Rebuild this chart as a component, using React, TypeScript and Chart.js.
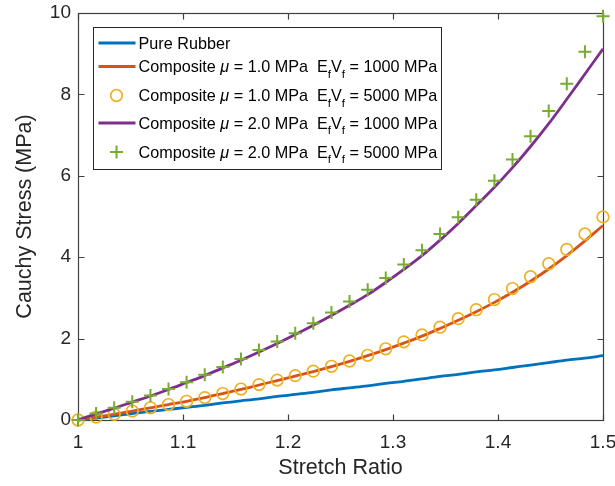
import { useEffect, useRef } from 'react';
import { Chart, registerables } from 'chart.js';

Chart.register(...registerables);

const FONT = '"Liberation Sans", Arial, Helvetica, sans-serif';

// Stretch ratio (x) sample points
const stretch = [
  1.0, 1.0172, 1.0345, 1.0517, 1.069, 1.0862, 1.1034, 1.1207, 1.1379, 1.1552,
  1.1724, 1.1897, 1.2069, 1.2241, 1.2414, 1.2586, 1.2759, 1.2931, 1.3103, 1.3276,
  1.3448, 1.3621, 1.3793, 1.3966, 1.4138, 1.431, 1.4483, 1.4655, 1.4828, 1.5,
];

// Cauchy stress (MPa)
const pureRubber = [
  0, 0.05, 0.1, 0.16, 0.21, 0.26, 0.31, 0.36, 0.42, 0.47,
  0.52, 0.58, 0.63, 0.68, 0.74, 0.79, 0.84, 0.9, 0.95, 1.01,
  1.07, 1.12, 1.18, 1.23, 1.29, 1.35, 1.41, 1.47, 1.52, 1.58,
];
const comp1_1000 = [
  0, 0.07, 0.14, 0.22, 0.3, 0.38, 0.46, 0.55, 0.65, 0.75,
  0.86, 0.97, 1.08, 1.19, 1.31, 1.44, 1.58, 1.73, 1.89, 2.06,
  2.25, 2.45, 2.66, 2.89, 3.14, 3.41, 3.71, 4.04, 4.4, 4.78,
];
const comp1_5000 = [
  0, 0.07, 0.14, 0.22, 0.3, 0.38, 0.46, 0.55, 0.65, 0.76,
  0.87, 0.98, 1.09, 1.2, 1.32, 1.45, 1.59, 1.75, 1.92, 2.09,
  2.28, 2.49, 2.71, 2.96, 3.23, 3.52, 3.84, 4.19, 4.57, 4.99,
];
const comp2_1000 = [
  0, 0.15, 0.29, 0.44, 0.59, 0.75, 0.92, 1.09, 1.28, 1.47,
  1.67, 1.88, 2.1, 2.33, 2.57, 2.82, 3.08, 3.38, 3.7, 4.04,
  4.42, 4.83, 5.27, 5.72, 6.2, 6.72, 7.28, 7.88, 8.5, 9.12,
];
const comp2_5000 = [
  0, 0.16, 0.3, 0.45, 0.6, 0.76, 0.93, 1.11, 1.3, 1.5,
  1.72, 1.93, 2.13, 2.38, 2.64, 2.91, 3.2, 3.49, 3.82, 4.17,
  4.57, 4.98, 5.41, 5.88, 6.4, 6.97, 7.59, 8.26, 9.05, 9.92,
];

const seriesLabels = [
  'Pure Rubber',
  'Composite \\mu = 1.0 MPa  E_fV_f = 1000 MPa',
  'Composite \\mu = 1.0 MPa  E_fV_f = 5000 MPa',
  'Composite \\mu = 2.0 MPa  E_fV_f = 1000 MPa',
  'Composite \\mu = 2.0 MPa  E_fV_f = 5000 MPa',
];
const seriesColors = ['#0072BD', '#D95319', '#EDB120', '#7E2F8E', '#77AC30'];
const seriesKinds = ['line', 'line', 'circle', 'line', 'plus'];

const xTicks = [1, 1.1, 1.2, 1.3, 1.4, 1.5];
const yTicks = [0, 2, 4, 6, 8, 10];
const xTitle = 'Stretch Ratio';
const yTitle = 'Cauchy Stress (MPa)';

const AXIS_COLOR = '#262626';
const TICK_LEN = 6;

function drawRich(ctx: CanvasRenderingContext2D, text: string, x: number, baseline: number, size: number) {
  const parts: { t: string; k: string }[] = [];
  let buf = '';
  let i = 0;
  while (i < text.length) {
    if (text.startsWith('\\mu', i)) {
      if (buf) parts.push({ t: buf, k: 'n' });
      buf = '';
      parts.push({ t: 'μ', k: 'i' });
      i += 3;
    } else if (text[i] === '_') {
      if (buf) parts.push({ t: buf, k: 'n' });
      buf = '';
      parts.push({ t: text[i + 1], k: 's' });
      i += 2;
    } else {
      buf += text[i];
      i++;
    }
  }
  if (buf) parts.push({ t: buf, k: 'n' });
  let cx = x;
  for (const p of parts) {
    let dy = 0;
    if (p.k === 'i') ctx.font = `italic ${size}px ${FONT}`;
    else if (p.k === 's') {
      ctx.font = `${size * 0.72}px ${FONT}`;
      dy = size * 0.32;
    } else ctx.font = `${size}px ${FONT}`;
    ctx.fillText(p.t, cx, baseline + dy);
    cx += ctx.measureText(p.t).width;
  }
}

const boxPlugin = {
  id: 'matlabBox',
  beforeDatasetsDraw(chart: any) {
    const { ctx, chartArea: a, scales } = chart;
    ctx.save();
    ctx.strokeStyle = '#404040';
    ctx.lineWidth = 1.2;
    const L = Math.round(a.left) + 0.5;
    const R = Math.round(a.right) + 0.5;
    const T = Math.round(a.top) + 0.5;
    const B = Math.round(a.bottom) + 0.5;
    ctx.strokeRect(L, T, R - L, B - T);
    ctx.beginPath();
    for (const v of xTicks) {
      const px = Math.round(scales.x.getPixelForValue(v)) + 0.5;
      ctx.moveTo(px, B);
      ctx.lineTo(px, B - TICK_LEN);
      ctx.moveTo(px, T);
      ctx.lineTo(px, T + TICK_LEN);
    }
    for (const v of yTicks) {
      const py = Math.round(scales.y.getPixelForValue(v)) + 0.5;
      ctx.moveTo(L, py);
      ctx.lineTo(L + TICK_LEN, py);
      ctx.moveTo(R, py);
      ctx.lineTo(R - TICK_LEN, py);
    }
    ctx.stroke();
    ctx.restore();
  },
  afterDatasetsDraw(chart: any) {
    const { ctx, chartArea: a } = chart;
    const bx = a.left + 15.5;
    const by = a.top + 14.5;
    const bw = 348;
    const bh = 142;
    const rows = [15.5, 39, 68, 95.5, 124.5];
    const size = 16.2;
    ctx.save();
    ctx.fillStyle = '#ffffff';
    ctx.fillRect(bx, by, bw, bh);
    ctx.strokeStyle = '#262626';
    ctx.lineWidth = 1;
    ctx.strokeRect(bx, by, bw, bh);
    seriesLabels.forEach((label, idx) => {
      const cy = by + rows[idx];
      const col = seriesColors[idx];
      const kind = seriesKinds[idx];
      ctx.strokeStyle = col;
      if (kind === 'line') {
        ctx.lineWidth = 2.8;
        ctx.beginPath();
        ctx.moveTo(bx + 5, cy);
        ctx.lineTo(bx + 42, cy);
        ctx.stroke();
      } else if (kind === 'circle') {
        ctx.lineWidth = 1.7;
        ctx.beginPath();
        ctx.arc(bx + 23, cy, 5.8, 0, Math.PI * 2);
        ctx.stroke();
      } else {
        ctx.lineWidth = 2;
        ctx.beginPath();
        ctx.moveTo(bx + 23 - 6.5, cy);
        ctx.lineTo(bx + 23 + 6.5, cy);
        ctx.moveTo(bx + 23, cy - 6.5);
        ctx.lineTo(bx + 23, cy + 6.5);
        ctx.stroke();
      }
      ctx.fillStyle = '#000000';
      ctx.textBaseline = 'alphabetic';
      ctx.textAlign = 'left';
      drawRich(ctx, label, bx + 45, cy + size * 0.36, size);
    });
    ctx.restore();
  },
};

export default function App() {
  const ref = useRef<HTMLCanvasElement>(null);
  useEffect(() => {
    if (!ref.current) return;
    const toPts = (ys: number[]) => ys.map((y, i) => ({ x: stretch[i], y }));
    const lineDs = (idx: number, ys: number[], order: number) => ({
      label: seriesLabels[idx],
      data: toPts(ys),
      borderColor: seriesColors[idx],
      backgroundColor: seriesColors[idx],
      borderWidth: 2.8,
      pointRadius: 0,
      cubicInterpolationMode: 'monotone' as const,
      fill: false,
      clip: false as any,
      order,
    });
    const chart = new Chart(ref.current, {
      type: 'line',
      data: {
        datasets: [
          lineDs(0, pureRubber, 5),
          lineDs(1, comp1_1000, 4),
          {
            label: seriesLabels[2],
            data: toPts(comp1_5000),
            showLine: false,
            pointStyle: 'circle',
            pointRadius: 5.8,
            pointBorderWidth: 1.7,
            pointBorderColor: seriesColors[2],
            pointBackgroundColor: 'rgba(0,0,0,0)',
            borderColor: seriesColors[2],
            clip: false as any,
            order: 3,
          },
          lineDs(3, comp2_1000, 2),
          {
            label: seriesLabels[4],
            data: toPts(comp2_5000),
            showLine: false,
            pointStyle: 'cross',
            pointRadius: 6.5,
            pointBorderWidth: 2,
            pointBorderColor: seriesColors[4],
            borderColor: seriesColors[4],
            clip: false as any,
            order: 1,
          },
        ],
      },
      options: {
        animation: false,
        responsive: false,
        events: [],
        layout: { padding: { top: 13, right: 12, left: 0, bottom: 0 } },
        plugins: { legend: { display: false }, tooltip: { enabled: false } },
        scales: {
          x: {
            type: 'linear',
            min: 1,
            max: 1.5,
            afterBuildTicks: (s: any) => {
              s.ticks = xTicks.map((v) => ({ value: v }));
            },
            afterFit: (s: any) => {
              s.height = 66;
              s.paddingLeft = 0;
              s.paddingRight = 0;
            },
            grid: { display: false, drawTicks: false },
            border: { display: false },
            ticks: {
              padding: 11,
              color: AXIS_COLOR,
              font: { size: 19, family: FONT },
              maxRotation: 0,
              autoSkip: false,
              callback: (v: any) => String(v),
            },
            title: {
              display: true,
              text: xTitle,
              color: AXIS_COLOR,
              font: { size: 21.5, family: FONT },
              padding: { top: 0, bottom: 5 },
            },
          },
          y: {
            type: 'linear',
            min: 0,
            max: 10,
            afterBuildTicks: (s: any) => {
              s.ticks = yTicks.map((v) => ({ value: v }));
            },
            afterFit: (s: any) => {
              s.width = 78;
              s.paddingTop = 0;
              s.paddingBottom = 0;
            },
            grid: { display: false, drawTicks: false },
            border: { display: false },
            ticks: {
              padding: 7,
              color: AXIS_COLOR,
              font: { size: 19, family: FONT },
              autoSkip: false,
              callback: (v: any) => String(v),
            },
            title: {
              display: true,
              text: yTitle,
              color: AXIS_COLOR,
              font: { size: 21.5, family: FONT },
              padding: { top: 12, bottom: 0 },
            },
          },
        },
      },
      plugins: [boxPlugin],
    });
    return () => chart.destroy();
  }, []);
  return (
    <div style={{ position: 'absolute', left: 0, top: 0, width: 615, height: 486, background: '#fff' }}>
      <canvas ref={ref} width={615} height={486} />
    </div>
  );
}
